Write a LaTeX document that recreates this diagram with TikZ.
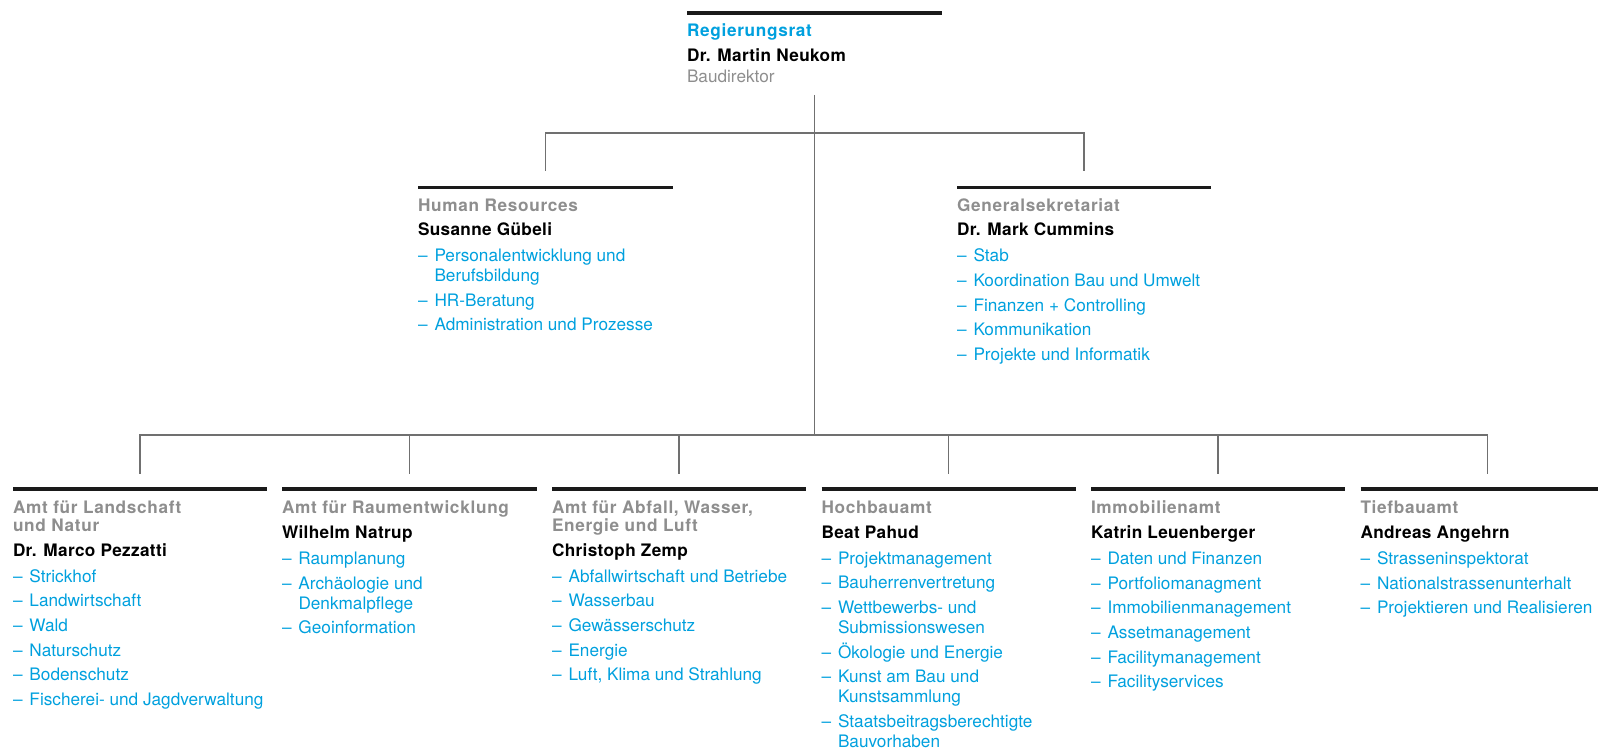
\documentclass[tikz,border=0pt]{standalone}
\usepackage{fontspec}
\setmainfont{TeX Gyre Heros}
\definecolor{zhblue}{RGB}{0,160,222}
\definecolor{zhgray}{RGB}{142,142,142}
\definecolor{linegray}{RGB}{112,112,112}
\definecolor{barblack}{RGB}{26,26,26}
\newcommand{\amt}[2][zhgray]{{\color{#1}\bfseries\addfontfeature{LetterSpace=4}#2}}
\newcommand{\chef}[1]{{\color{black}\bfseries\addfontfeature{LetterSpace=2}#1}}
\newcommand{\itm}[1]{\makebox[16.5pt][l]{–}#1}
\newcommand{\contd}{\hspace*{16.5pt}}
\begin{document}
\begin{tikzpicture}[x=1pt,y=-1pt,
  unit/.style={anchor=north west,yshift=11pt,align=left,inner sep=0pt,outer sep=0pt,text=zhblue,
    font=\fontsize{17.2}{20}\selectfont,execute at begin node={\rule{0pt}{14pt}}},
  bar/.style={draw=barblack,line width=3.8pt},
  link/.style={draw=linegray,line width=1.3pt}]
  \useasboundingbox (0,0) rectangle (1598,749);
  % junctions of the tree
  \coordinate (rrfoot) at (814.5,95);
  \coordinate (busA) at (814.5,133);
  \coordinate (busB) at (814.5,435);
  \coordinate (hrin) at (545.5,170.5);
  \coordinate (gsin) at (1084,170.5);
  \coordinate (alnin) at (140,473.5);
  \coordinate (arein) at (409.5,473.5);
  \coordinate (awelin) at (679,473.5);
  \coordinate (hbain) at (948.5,473.5);
  \coordinate (imain) at (1218,473.5);
  \coordinate (tbain) at (1487.5,473.5);
  \draw[link] (rrfoot) -- (busB);
  \draw[link] (hrin) |- (busA) -| (gsin);
  \draw[link] (alnin) |- (busB) -| (tbain);
  \draw[link] (arein) -- (arein |- busB);
  \draw[link] (awelin) -- (awelin |- busB);
  \draw[link] (hbain) -- (hbain |- busB);
  \draw[link] (imain) -- (imain |- busB);
  % bars
  \draw[bar] (687,13) -- (942,13);
  \draw[bar] (418,187.5) -- (673,187.5);
  \draw[bar] (957,187.5) -- (1211,187.5);
  \draw[bar] (13,489) -- (267,489);
  \draw[bar] (282,489) -- (537,489);
  \draw[bar] (552,489) -- (806,489);
  \draw[bar] (821.5,489) -- (1076,489);
  \draw[bar] (1091,489) -- (1345,489);
  \draw[bar] (1360.5,489) -- (1598,489);
  % units
  \node[unit] (rr) at (687,35) {\amt[zhblue]{Regierungsrat}\\[5pt]
    \chef{Dr. Martin Neukom}\\[1pt]
    {\color{zhgray}Baudirektor}};
  \node[unit] (hr) at (418,209.5) {\amt{Human Resources}\\[4.5pt]
    \chef{Susanne Gübeli}\\[6pt]
    \itm{Personalentwicklung und}\\
    \contd Berufsbildung\\[4.7pt]
    \itm{HR-Beratung}\\[4.7pt]
    \itm{Administration und Prozesse}};
  \node[unit] (gs) at (957,209.5) {\amt{Generalsekretariat}\\[4.5pt]
    \chef{Dr. Mark Cummins}\\[6pt]
    \itm{Stab}\\[4.7pt]
    \itm{Koordination Bau und Umwelt}\\[4.7pt]
    \itm{Finanzen + Controlling}\\[4.7pt]
    \itm{Kommunikation}\\[4.7pt]
    \itm{Projekte und Informatik}};
  \node[unit] (aln) at (13,512) {\amt{Amt für Landschaft}\\[-2pt]
    \amt{und Natur}\\[4.5pt]
    \chef{Dr. Marco Pezzatti}\\[6pt]
    \itm{Strickhof}\\[4.7pt]
    \itm{Landwirtschaft}\\[4.7pt]
    \itm{Wald}\\[4.7pt]
    \itm{Naturschutz}\\[4.7pt]
    \itm{Bodenschutz}\\[4.7pt]
    \itm{Fischerei- und Jagdverwaltung}};
  \node[unit] (are) at (282,512) {\amt{Amt für Raumentwicklung}\\[4.5pt]
    \chef{Wilhelm Natrup}\\[6pt]
    \itm{Raumplanung}\\[4.7pt]
    \itm{Archäologie und}\\
    \contd Denkmalpflege\\[4.7pt]
    \itm{Geoinformation}};
  \node[unit] (awel) at (552,512) {\amt{Amt für Abfall, Wasser,}\\[-2pt]
    \amt{Energie und Luft}\\[4.5pt]
    \chef{Christoph Zemp}\\[6pt]
    \itm{Abfallwirtschaft und Betriebe}\\[4.7pt]
    \itm{Wasserbau}\\[4.7pt]
    \itm{Gewässerschutz}\\[4.7pt]
    \itm{Energie}\\[4.7pt]
    \itm{Luft, Klima und Strahlung}};
  \node[unit] (hba) at (821.5,512) {\amt{Hochbauamt}\\[4.5pt]
    \chef{Beat Pahud}\\[6pt]
    \itm{Projektmanagement}\\[4.7pt]
    \itm{Bauherrenvertretung}\\[4.7pt]
    \itm{Wettbewerbs- und}\\
    \contd Submissionswesen\\[4.7pt]
    \itm{Ökologie und Energie}\\[4.7pt]
    \itm{Kunst am Bau und}\\
    \contd Kunstsammlung\\[4.7pt]
    \itm{Staatsbeitragsberechtigte}\\
    \contd Bauvorhaben};
  \node[unit] (ima) at (1091,512) {\amt{Immobilienamt}\\[4.5pt]
    \chef{Katrin Leuenberger}\\[6pt]
    \itm{Daten und Finanzen}\\[4.7pt]
    \itm{Portfoliomanagment}\\[4.7pt]
    \itm{Immobilienmanagement}\\[4.7pt]
    \itm{Assetmanagement}\\[4.7pt]
    \itm{Facilitymanagement}\\[4.7pt]
    \itm{Facilityservices}};
  \node[unit] (tba) at (1360.5,512) {\amt{Tiefbauamt}\\[4.5pt]
    \chef{Andreas Angehrn}\\[6pt]
    \itm{Strasseninspektorat}\\[4.7pt]
    \itm{Nationalstrassenunterhalt}\\[4.7pt]
    \itm{Projektieren und Realisieren}};
\end{tikzpicture}
\end{document}
